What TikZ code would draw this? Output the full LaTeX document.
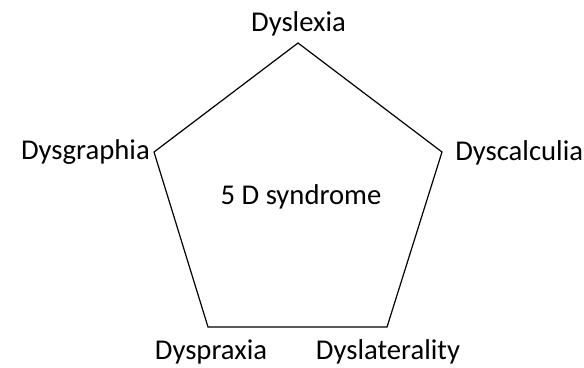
\documentclass[tikz,border=0pt]{standalone}
\usepackage{fontspec}
\setmainfont{Carlito}
\usetikzlibrary{positioning,calc}
\tikzset{
  side/.style={line width=0.9pt, line join=miter},
  dname/.style={inner sep=0pt, anchor=base, font=\fontsize{21.5}{26}\selectfont},
}

\begin{document}
\begin{tikzpicture}[x=0.75pt, y=-0.75pt]
\useasboundingbox (0,0) rectangle (584,367);

% corners of the pentagon
\coordinate (top) at (298,43);
\coordinate (rt) at (442,152);
\coordinate (br) at (387,327);
\coordinate (bl) at (208,327);
\coordinate (lt) at (154,152);

\draw[side] (top) -- (rt) -- (br) -- (bl) -- (lt) -- cycle;

\node[dname] (mid) at (301,204) {5 D syndrome};

\node[dname] (lexia) at ($(top)+(0.5,-11)$) {Dyslexia};
\node[dname, anchor=base east] (graphia) at ($(lt)+(-4,7)$) {Dysgraphia};
\node[dname, anchor=base west] (calculia) at ($(rt)+(13,8)$) {Dyscalculia};
\node[dname] (praxia) at ($(bl)+(3,32)$) {Dyspraxia};
\node[dname] (laterality) at ($(br)+(1,32)$) {Dyslaterality};

\end{tikzpicture}
\end{document}
